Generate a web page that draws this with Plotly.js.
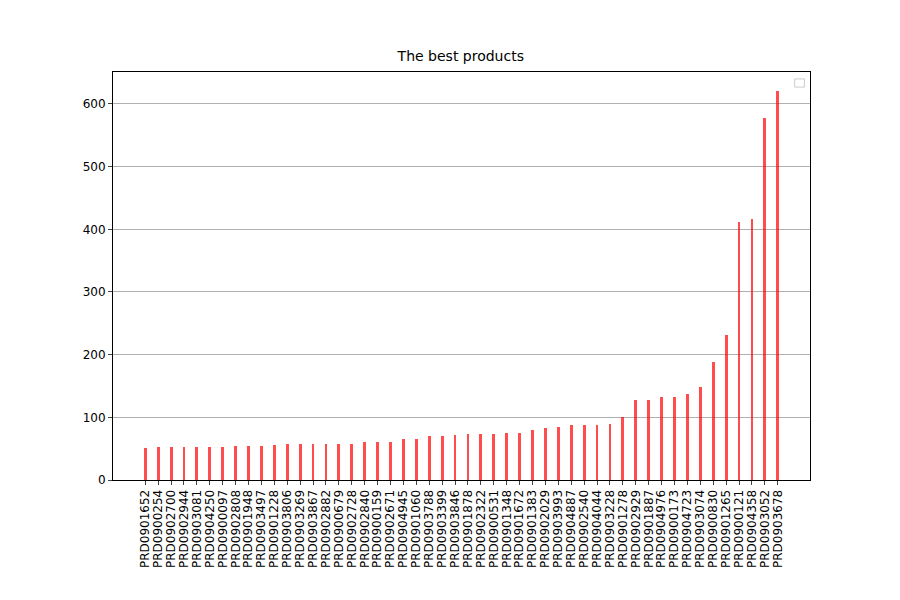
<!DOCTYPE html>
<html>
<head>
<meta charset="utf-8">
<script src="https://cdn.plot.ly/plotly-3.0.1.min.js"></script>
<style>body{margin:0;background:#fff}#chart{width:900px;height:600px}</style>
</head>
<body>
<div id="chart"></div>
<script>
// products, sorted by count
const products = ['PRD0901652','PRD0900254','PRD0902700','PRD0902944','PRD0903081','PRD0904250','PRD0900097','PRD0902808','PRD0901948','PRD0903497',
  'PRD0901228','PRD0903806','PRD0903269','PRD0903867','PRD0902882','PRD0900679','PRD0902728','PRD0902840','PRD0900159','PRD0902671',
  'PRD0904945','PRD0901060','PRD0903788','PRD0903399','PRD0903846','PRD0901878','PRD0902322','PRD0900531','PRD0901348','PRD0901672',
  'PRD0901383','PRD0902029','PRD0903993','PRD0904887','PRD0902540','PRD0904044','PRD0903228','PRD0901278','PRD0902929','PRD0901887',
  'PRD0904976','PRD0900173','PRD0904723','PRD0903074','PRD0900830','PRD0901265','PRD0900121','PRD0904358','PRD0903052','PRD0903678'];
const counts = [51,52,52,52,52,53,53,54,54,55,
  56,57,57,57,57,57,57,60,60,60,
  65,65,70,70,72,73,73,73,75,75,
  80,83,85,87,88,88,90,100,127,128,
  132,133,137,148,188,231,411,416,578,620];

const idx = products.map((p, i) => i);

Plotly.newPlot('chart', [{
  type: 'bar',
  x: idx,
  y: counts,
  width: 0.22,
  marker: {color: 'rgba(255,0,0,0.7)'},
  hoverinfo: 'x+y'
}], {
  width: 900, height: 600,
  margin: {l: 113, r: 90, t: 72, b: 120},
  paper_bgcolor: '#fff', plot_bgcolor: '#fff',
  font: {family: 'DejaVu Sans', size: 12, color: '#000'},
  title: {text: 'The best products', x: 0.512, y: 0.915, xanchor: 'center', font: {size: 14}},
  showlegend: false,
  bargap: 0,
  xaxis: {
    range: [-2.5, 51.5], tickmode: 'array', tickvals: idx, ticktext: products,
    tickangle: -90, ticks: 'outside', ticklen: 4, showgrid: false, zeroline: false,
    showline: true, mirror: true, linecolor: '#000'
  },
  yaxis: {
    range: [0, 651], dtick: 100, ticks: 'outside', ticklen: 4,
    showgrid: true, gridcolor: '#b0b0b0', zeroline: false,
    showline: true, mirror: true, linecolor: '#000'
  },
  shapes: [{type: 'rect', xref: 'paper', yref: 'paper', x0: 0.978, x1: 0.992, y0: 0.963, y1: 0.983,
    line: {color: '#ccc', width: 1}, fillcolor: '#fff'}]
}, {displayModeBar: false});
</script>
</body>
</html>
